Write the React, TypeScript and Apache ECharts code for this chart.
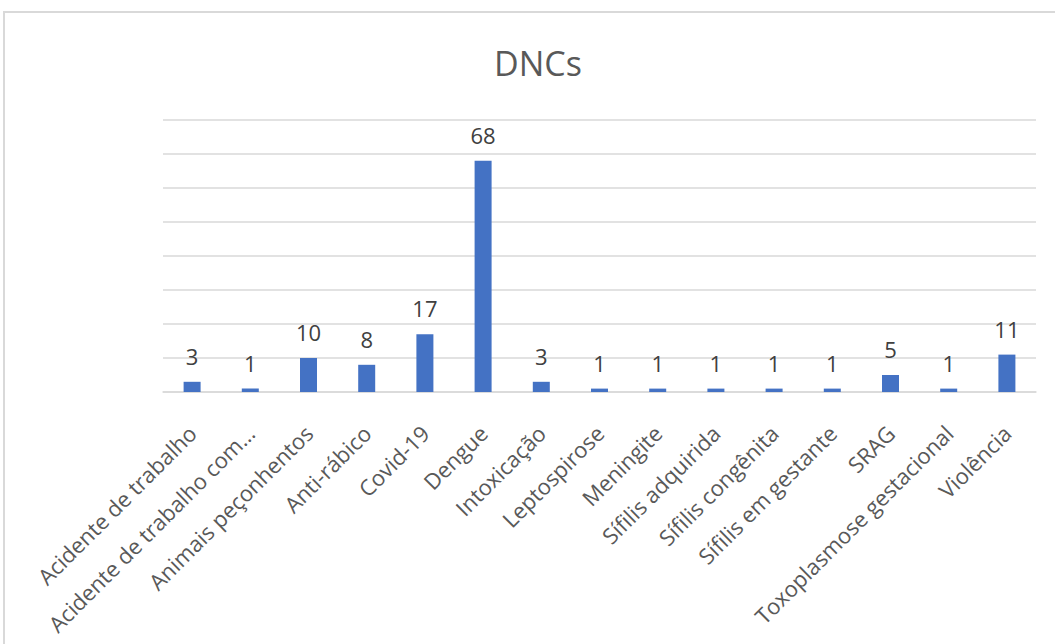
import React, { useEffect, useRef } from "react";
import * as echarts from "echarts";

const categories = [
  "Acidente de trabalho",
  "Acidente de trabalho com...",
  "Animais peçonhentos",
  "Anti-rábico",
  "Covid-19",
  "Dengue",
  "Intoxicação",
  "Leptospirose",
  "Meningite",
  "Sífilis adquirida",
  "Sífilis congênita",
  "Sífilis em gestante",
  "SRAG",
  "Toxoplasmose gestacional",
  "Violência",
];
const values = [3, 1, 10, 8, 17, 68, 3, 1, 1, 1, 1, 1, 5, 1, 11];
const titleText = "DNCs";

export default function App() {
  const ref = useRef<HTMLDivElement>(null);
  useEffect(() => {
    if (!ref.current) return;
    const chart = echarts.init(ref.current, null, { renderer: "svg" });
    const font = "'Open Sans', 'Noto Sans', sans-serif";
    chart.setOption({
      animation: false,
      backgroundColor: "#ffffff",
      graphic: [
        {
          type: "rect",
          shape: { x: 4, y: 12, width: 1100, height: 700 },
          style: { fill: "none", stroke: "#d9d9d9", lineWidth: 2 },
          silent: true,
        },
        {
          type: "text",
          x: 538,
          y: 63,
          style: {
            text: titleText,
            fontSize: 34,
            fontFamily: font,
            fill: "#595959",
            textAlign: "center",
            textVerticalAlign: "middle",
          },
        },
      ],
      grid: { left: 163, right: 19, top: 120, bottom: 252 },
      xAxis: {
        type: "category",
        data: categories,
        axisLine: { lineStyle: { color: "#d9d9d9", width: 1.5 } },
        axisTick: { show: false },
        axisLabel: {
          interval: 0,
          rotate: 45,
          fontSize: 22,
          fontFamily: font,
          color: "#595959",
          margin: 37,
        },
      },
      yAxis: {
        type: "value",
        min: 0,
        max: 80,
        interval: 10,
        axisLabel: { show: false },
        axisLine: { show: false },
        axisTick: { show: false },
        splitLine: { lineStyle: { color: "#d9d9d9", width: 1.5 } },
      },
      series: [
        {
          type: "bar",
          data: values,
          barWidth: 17,
          itemStyle: { color: "#4472C4" },
          label: {
            show: true,
            position: "top",
            distance: 15,
            fontSize: 22,
            fontFamily: font,
            color: "#404040",
          },
        },
      ],
    });
    return () => chart.dispose();
  }, []);
  return (
    <div
      ref={ref}
      style={{ position: "absolute", left: 0, top: 0, width: 1055, height: 644 }}
    />
  );
}
